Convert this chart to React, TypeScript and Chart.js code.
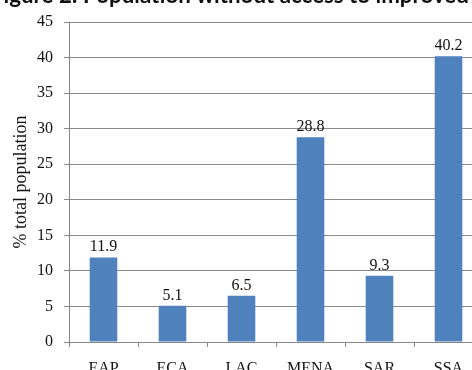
import React, { useEffect, useRef } from "react";
import { Chart, registerables } from "chart.js";

Chart.register(...registerables);

const categories = ["EAP", "ECA", "LAC", "MENA", "SAR", "SSA"];
const values = [11.9, 5.1, 6.5, 28.8, 9.3, 40.2];
const titleText = "Figure 2: Population without access to improved sanitation";
const yAxisTitle = "% total population";

const W = 520;
const H = 400;
const OX = -10;
const OY = -20;
const SERIF = '"Liberation Serif", "Times New Roman", serif';

const labelPlugin = {
  id: "barLabels",
  afterDatasetsDraw(chart: any) {
    const ctx = chart.ctx;
    const meta = chart.getDatasetMeta(0);
    ctx.save();
    ctx.font = `16px ${SERIF}`;
    ctx.fillStyle = "#111";
    ctx.textAlign = "center";
    ctx.textBaseline = "alphabetic";
    meta.data.forEach((el: any, i: number) => {
      ctx.fillText(values[i].toFixed(1), el.x, el.y - 6);
    });
    ctx.restore();
  },
};

const titlePlugin = {
  id: "topTitle",
  afterDraw(chart: any) {
    const ctx = chart.ctx;
    ctx.save();
    ctx.font = `bold 22.3px Lato, "Open Sans", sans-serif`;
    ctx.fillStyle = "#111";
    ctx.textAlign = "left";
    ctx.textBaseline = "alphabetic";
    ctx.fillText(titleText, 1, 23);
    ctx.restore();
  },
};

export default function App() {
  const ref = useRef<HTMLCanvasElement>(null);
  useEffect(() => {
    if (!ref.current) return;
    const chart = new Chart(ref.current, {
      type: "bar",
      data: {
        labels: categories,
        datasets: [
          {
            data: values,
            backgroundColor: "#4F81BD",
            borderWidth: 0,
            barPercentage: 0.4,
            categoryPercentage: 1,
          },
        ],
      },
      options: {
        responsive: false,
        animation: false,
        devicePixelRatio: 1,
        layout: { padding: { left: 0, right: 27, top: 42, bottom: 0 } },
        plugins: {
          legend: { display: false },
          tooltip: { enabled: false },
          title: { display: false },
        },
        scales: {
          x: {
            grid: {
              offset: true,
              drawOnChartArea: false,
              drawTicks: true,
              tickLength: 5,
              color: "#8a8a8a",
            },
            border: { color: "#868686" },
            ticks: { font: { family: SERIF, size: 16 }, color: "#111", padding: 12 },
            afterFit: (s: any) => {
              s.height = 38;
            },
          },
          y: {
            min: 0,
            max: 45,
            ticks: { stepSize: 5, font: { family: SERIF, size: 16 }, color: "#111", padding: 11 },
            grid: { color: "#8a8a8a", tickLength: 5 },
            border: { color: "#868686" },
            title: {
              display: true,
              text: yAxisTitle,
              font: { family: SERIF, size: 18 },
              color: "#111",
              padding: { top: 20, bottom: 0 },
            },
            afterFit: (s: any) => {
              s.width = 79;
            },
          },
        },
      },
      plugins: [labelPlugin, titlePlugin],
    });
    return () => chart.destroy();
  }, []);
  return (
    <div style={{ position: "fixed", left: 0, top: 0, width: 472, height: 370, overflow: "hidden", background: "#fff" }}>
      <canvas ref={ref} width={W} height={H} style={{ position: "absolute", left: OX, top: OY, width: W, height: H }} />
    </div>
  );
}
